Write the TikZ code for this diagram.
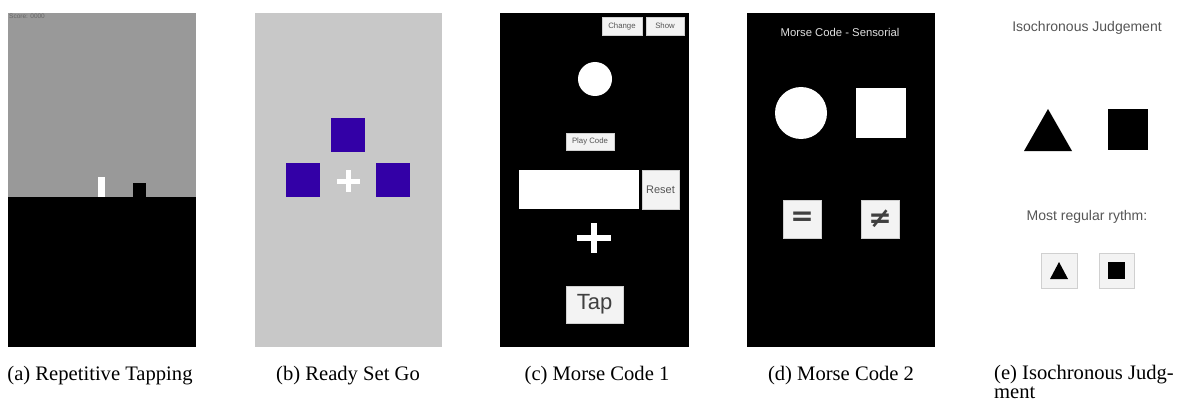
\documentclass[tikz,border=0pt]{standalone}
\usepackage{fontspec}
\setmainfont{Liberation Serif}
\setsansfont{Liberation Sans}
\newfontfamily\symfont{DejaVu Sans}

\definecolor{skygray}{HTML}{999999}
\definecolor{roomgray}{HTML}{C8C8C8}
\definecolor{cuecolor}{HTML}{3300A6}
\definecolor{btnfill}{HTML}{F3F3F3}
\definecolor{btnline}{HTML}{D0D0D0}
\definecolor{btntext}{HTML}{555555}

\begin{document}
\begin{tikzpicture}[x=1pt, y=-1pt,
        btn/.style={draw=btnline, fill=btnfill, text=btntext, inner sep=0pt,
                font=\sffamily\fontsize{7.8}{9}\selectfont},
        cue/.style={fill=cuecolor, minimum size=34pt, inner sep=0pt},
        capt/.style={anchor=base, inner sep=0pt, font=\fontsize{20.6}{19.5}\selectfont},
        label/.style={inner sep=0pt, text=btntext, font=\sffamily\fontsize{14}{15}\selectfont}]

        \useasboundingbox (0,0) rectangle (1182,401);

        \fill[skygray] (8,13) rectangle (196,197);
        \fill[black] (8,197) rectangle (196,347);
        \fill[white] (98,177) rectangle (105,197);
        \fill[black] (133,183) rectangle (146,197);
        \node[anchor=north west, inner sep=0pt, text=black!60,
                font=\sffamily\fontsize{6.5}{7}\selectfont] (score) at (9,14) {Score: 0000};
        \node[capt] (capA) at (100,380) {(a) Repetitive Tapping};

        \fill[roomgray] (255,13) rectangle (442,347);
        \node[cue] (cueTop) at (348,135) {};
        \node[cue] (cueLeft) at (303,180) {};
        \node[cue] (cueRight) at (393,180) {};
        \draw[white, line width=5pt] (337,181) -- (360,181) (348.5,170) -- (348.5,192);
        \node[capt] (capB) at (348,380) {(b) Ready Set Go};

        \fill[black] (500,13) rectangle (689,347);
        \node[btn, minimum width=40pt, minimum height=18pt] (change) at (622,26) {Change};
        \node[btn, minimum width=38pt, minimum height=18pt] (show) at (665,26) {Show};
        \node[circle, fill=white, minimum size=34pt, inner sep=0pt] (flash) at (595,79) {};
        \node[btn, minimum width=48pt, minimum height=17pt] (play) at (590,141.5) {Play Code};
        \node[fill=white, minimum width=120pt, minimum height=39pt, inner sep=0pt] (answer) at (579,189.5) {};
        \node[btn, minimum width=37pt, minimum height=39pt,
                font=\sffamily\fontsize{11}{12}\selectfont] (reset) at (660.5,189.5) {Reset};
        \draw[white, line width=6pt] (577,238) -- (611,238) (594,223) -- (594,253);
        \node[btn, minimum width=57pt, minimum height=37pt, text=black!75,
                font=\sffamily\fontsize{22}{24}\selectfont] (tap) at (594.5,304.5) {Tap};
        \node[capt] (capC) at (597,380) {(c) Morse Code 1};

        \fill[black] (747,13) rectangle (935,347);
        \node[inner sep=0pt, text=black!12, font=\sffamily\fontsize{11.3}{12}\selectfont] (titleD) at (840,32) {Morse Code - Sensorial};
        \node[circle, fill=white, minimum size=52pt, inner sep=0pt] (round) at (801,113) {};
        \node[fill=white, minimum size=50pt, inner sep=0pt] (block) at (881,113) {};
        \node[btn, minimum size=38pt, text=black!75,
                font=\symfont\bfseries\fontsize{28}{28}\selectfont] (same) at (802,219) {=};
        \node[btn, minimum size=38pt, text=black!75,
                font=\symfont\bfseries\fontsize{28}{28}\selectfont] (differ) at (880,219) {≠};
        \node[capt] (capD) at (841,380) {(d) Morse Code 2};

        \node[label] (titleE) at (1087,28) {Isochronous Judgement};
        \fill[black] (1024,151) -- (1048,109) -- (1072,151) -- cycle;
        \fill[black] (1108,109) rectangle (1148,150);
        \node[label] (ask) at (1087,217) {Most regular rythm:};
        \node[btn, minimum width=36pt, minimum height=35pt] (pickTri) at (1059,270.5) {};
        \node[btn, minimum width=35pt, minimum height=35pt] (pickSq) at (1116.5,270.5) {};
        \fill[black] (1050,279) -- (1059,262) -- (1068,279) -- cycle;
        \fill[black] (1108,262) rectangle (1125,279);
        \node[capt, anchor=base west, align=left] (capE) at (994,398.5) {(e) Isochronous Judg-\\ment};

\end{tikzpicture}
\end{document}
